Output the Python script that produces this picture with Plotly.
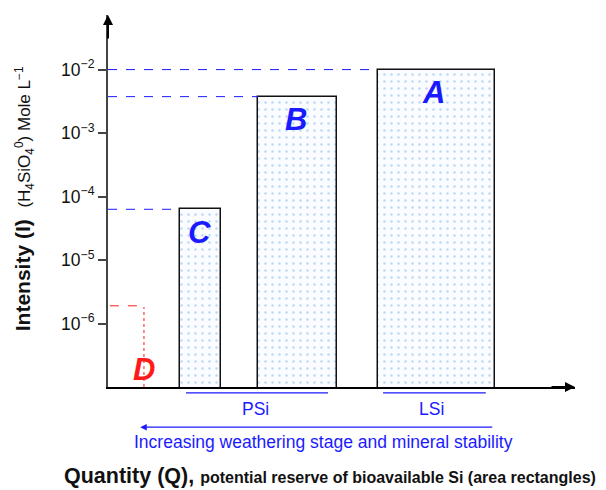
import plotly.graph_objects as go

# Silicon pools: rectangle edges along the quantity axis and solution intensity
pools = ["C", "B", "A"]
q_left = [15.4, 32.1, 57.8]
q_right = [24.2, 49.0, 82.9]
intensity = [6.3e-5, 3.75e-3, 1.0e-2]

# Pool D is drawn only as an outline marker
d_quantity = 7.7
d_intensity = 1.9e-6

y_tickvals = [1e-6, 1e-5, 1e-4, 1e-3, 1e-2]
y_ticktext = ["10<sup>−6</sup>", "10<sup>−5</sup>", "10<sup>−4</sup>",
              "10<sup>−3</sup>", "10<sup>−2</sup>"]

# Spans of the PSi / LSi brackets under the axis
psi_span = [16.7, 47.1]
lsi_span = [58.9, 80.9]

BLUE = "#1a1aff"
RED = "#ff1a1a"
AXIS = "#444444"
FONT = "Liberation Sans, Arial, sans-serif"

centers = [(l + r) / 2 for l, r in zip(q_left, q_right)]
widths = [r - l for l, r in zip(q_left, q_right)]

fig = go.Figure()
fig.add_trace(go.Bar(
    x=centers, y=intensity, width=widths,
    marker=dict(
        color="white",
        line=dict(color="#111111", width=1.5),
        pattern=dict(shape=".", fgcolor="#7ab4e8", bgcolor="#fafcff",
                     size=7, solidity=0.1),
    ),
    showlegend=False, hoverinfo="skip",
))

shapes = []
# dashed guides from the intensity axis to each rectangle top
for l, v in zip(q_left, intensity):
    shapes.append(dict(type="line", xref="x", yref="y", x0=0, x1=l, y0=v, y1=v,
                       line=dict(color=BLUE, width=1, dash="dash")))
# pool D outline
shapes.append(dict(type="line", xref="x", yref="y", x0=0.4, x1=d_quantity,
                   y0=d_intensity, y1=d_intensity,
                   line=dict(color=RED, width=1, dash="dash")))
shapes.append(dict(type="line", xref="x", yref="paper", x0=d_quantity, x1=d_quantity,
                   y0=0, y1=0.215, line=dict(color=RED, width=1, dash="dot")))
# brackets under the quantity axis
for span in (psi_span, lsi_span):
    shapes.append(dict(type="line", xref="x", yref="paper", x0=span[0], x1=span[1],
                       y0=-0.016, y1=-0.016, line=dict(color=BLUE, width=1.2)))


def label(x, y, text, size, color, xref="x", **kw):
    return dict(x=x, y=y, xref=xref, yref="paper", text=text, showarrow=False,
                xanchor=kw.pop("xanchor", "center"), yanchor="middle",
                font=dict(family=FONT, size=size, color=color), **kw)


annotations = []
# pool letters
letter_pos = {"A": (69.6, 0.793), "B": (40.3, 0.72), "C": (19.5, 0.414)}
for p in pools:
    x, y = letter_pos[p]
    annotations.append(label(x, y, f"<b><i>{p}</i></b>", 31, BLUE))
annotations.append(label(d_quantity, 0.048, "<b><i>D</i></b>", 31, RED))
# axis arrows
annotations.append(dict(x=0, y=1.0, xref="paper", yref="paper", ax=0, ay=25,
                        showarrow=True, arrowhead=2, arrowsize=1, arrowwidth=2,
                        arrowcolor="#000000", text=""))
annotations.append(dict(x=1.0, y=0, xref="paper", yref="paper", ax=-25, ay=0,
                        showarrow=True, arrowhead=2, arrowsize=1, arrowwidth=2,
                        arrowcolor="#000000", text=""))
# pool group labels
annotations.append(label(31.5, -0.059, "PSi", 17.5, BLUE))
annotations.append(label(69.2, -0.059, "LSi", 17.5, BLUE))
# weathering arrow
annotations.append(dict(x=6.9, y=-0.108, xref="x", yref="paper",
                        ax=82.6, ay=0, axref="x", ayref="pixel",
                        showarrow=True, arrowhead=2, arrowsize=1, arrowwidth=1.3,
                        arrowcolor=BLUE, text=""))
annotations.append(label(46.1, -0.148, "Increasing weathering stage and mineral stability",
                         17.5, BLUE))
# axis titles
annotations.append(label(-0.0985, -0.238,
                         "<b>Quantity (Q),</b> <b><span style='font-size:16px'>potential reserve of bioavailable Si (area rectangles)</span></b>",
                         21.5, "#111111", xref="paper", xanchor="left"))
annotations.append(label(-0.178, 0.507,
                         "<b>Intensity (I)</b>  <span style='font-size:17px'>(H<sub>4</sub>SiO<sub>4</sub><sup>0</sup>) Mole L<sup>−1</sup></span>",
                         21, "#111111", xref="paper", textangle=-90))

fig.update_layout(
    width=606, height=490,
    margin=dict(l=108, r=31, t=15, b=103),
    paper_bgcolor="white", plot_bgcolor="white",
    bargap=0,
    shapes=shapes, annotations=annotations,
    font=dict(family=FONT, color="#111111"),
    xaxis=dict(range=[0, 100], showgrid=False, zeroline=False, showticklabels=False,
               ticks="", showline=True, linecolor="#000000", linewidth=1.5),
    yaxis=dict(type="log", range=[-7, -1.14], showgrid=False, zeroline=False,
               tickvals=y_tickvals, ticktext=y_ticktext, ticks="outside",
               ticklen=8, tickwidth=1.5, tickcolor=AXIS,
               tickfont=dict(family=FONT, size=17.5, color="#111111"),
               showline=True, linecolor=AXIS, linewidth=2),
)

fig.write_html("out.html")
